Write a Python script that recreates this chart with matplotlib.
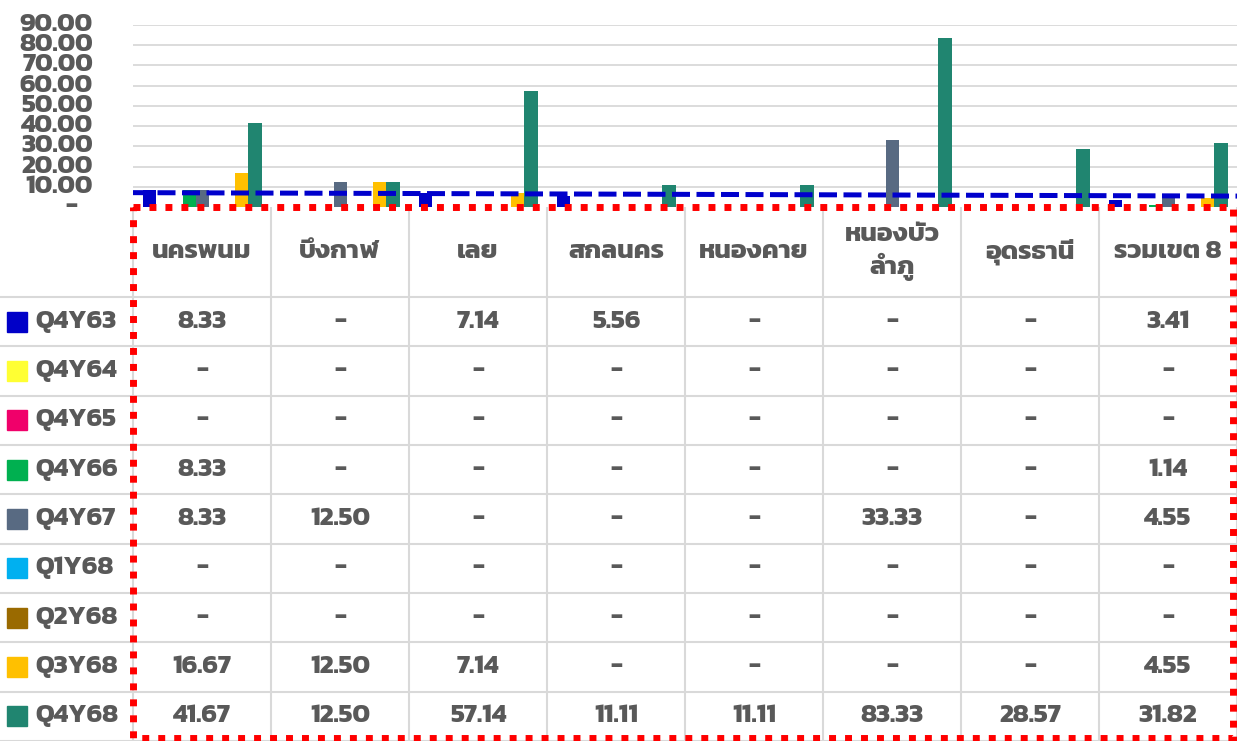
import matplotlib
matplotlib.use("Agg")
import matplotlib.pyplot as plt
from matplotlib.patches import Rectangle
from matplotlib.transforms import blended_transform_factory

plt.rcParams['font.family'] = ['Kanit', 'DejaVu Sans']
plt.rcParams['font.weight'] = 'bold'

### DATA
categories = ['นครพนม', 'บึงกาฬ', 'เลย', 'สกลนคร', 'หนองคาย',
              'หนองบัว\nลำภู', 'อุดรธานี', 'รวมเขต 8']
series_names = ['Q4Y63', 'Q4Y64', 'Q4Y65', 'Q4Y66', 'Q4Y67',
                'Q1Y68', 'Q2Y68', 'Q3Y68', 'Q4Y68']
q4y63 = [8.33, 0, 7.14, 5.56, 0, 0, 0, 3.41]
q4y64 = [0, 0, 0, 0, 0, 0, 0, 0]
q4y65 = [0, 0, 0, 0, 0, 0, 0, 0]
q4y66 = [8.33, 0, 0, 0, 0, 0, 0, 1.14]
q4y67 = [8.33, 12.50, 0, 0, 0, 33.33, 0, 4.55]
q1y68 = [0, 0, 0, 0, 0, 0, 0, 0]
q2y68 = [0, 0, 0, 0, 0, 0, 0, 0]
q3y68 = [16.67, 12.50, 7.14, 0, 0, 0, 0, 4.55]
q4y68 = [41.67, 12.50, 57.14, 11.11, 11.11, 83.33, 28.57, 31.82]
all_series = [q4y63, q4y64, q4y65, q4y66, q4y67, q1y68, q2y68, q3y68, q4y68]
colors = ['#0000C8', '#FFFF33', '#F0006A', '#00B050', '#586A82',
          '#00B0F0', '#9A6A00', '#FFC000', '#208570']
trend_ends = [7.1, 5.4]   # dashed trend line, left and right end
yticks = [0, 10, 20, 30, 40, 50, 60, 70, 80, 90]

TXT = '#595959'
GRID = '#D9D9D9'
FS = 19
W, H = 1237, 741

def fmt(v):
    return '-' if v == 0 else '{:.2f}'.format(v)

fig = plt.figure(figsize=(W / 100, H / 100), dpi=100)

### CHART AREA
ax = fig.add_axes([133 / W, (H - 207) / H, 1 - 133 / W, (207 - 25) / H])
ax.set_xlim(0, 8)
ax.set_ylim(0, 90)
for s in ax.spines.values():
    s.set_visible(False)
ax.set_xticks([])
ax.set_yticks([])
for t in yticks[1:]:
    ax.axhline(t, color=GRID, lw=1.3, zorder=0)

nser = len(all_series)
bw = 0.0955
off = 0.0725
for j, (vals, c) in enumerate(zip(all_series, colors)):
    xs = [i + off + j * bw for i in range(len(categories))]
    ax.bar(xs, vals, width=bw, align='edge', color=c, zorder=2)

ax.plot([0, 8], trend_ends, color='#0000CC', lw=3.6, dashes=(3.6, 1.3),
        zorder=3, solid_capstyle='butt')

ytr = blended_transform_factory(fig.transFigure, ax.transData)
for t in yticks:
    if t == 0:
        ax.text(71 / W, t, '-', transform=ytr, ha='center', va='center',
                fontsize=FS, color=TXT, clip_on=False)
    else:
        ax.text(93 / W, t, fmt(t), transform=ytr, ha='right', va='center',
                fontsize=FS, color=TXT, clip_on=False)

### DATA TABLE
tax = fig.add_axes([0, 0, 1, (H - 207) / H])
tax.set_xlim(-133 / 138, 8)
tax.set_ylim(534, 0)
tax.axis('off')

head_h = 90
row_h = (534 - head_h) / nser
for k in range(9):
    tax.plot([k, k], [0, 534], color=GRID, lw=1.5, zorder=1)
for r in range(nser + 1):
    y = head_h + r * row_h
    tax.plot([-133 / 138, 8], [y, y], color=GRID, lw=1.5, zorder=1)

for i, cat in enumerate(categories):
    tax.text(i + 0.5, head_h / 2, cat, ha='center', va='center',
             fontsize=FS, color=TXT, linespacing=1.3)

for r, (name, vals, c) in enumerate(zip(series_names, all_series, colors)):
    yc = head_h + (r + 0.5) * row_h
    tax.plot([(17.5 - 133) / 138], [yc], marker='s', ms=13.7, color=c,
             mec=c, zorder=3)
    tax.text((35 - 133) / 138, yc, name, ha='left', va='center',
             fontsize=FS, color=TXT)
    for i, v in enumerate(vals):
        tax.text(i + 0.5, yc, fmt(v), ha='center', va='center',
                 fontsize=FS, color=TXT)

# red dotted frame around the table
tax.add_patch(Rectangle((0, 0), (1233 - 133) / 138, 531, fill=False,
                        edgecolor='#FF0000', lw=5, linestyle=(0, (1, 1.3)),
                        zorder=5, clip_on=False))

fig.savefig('out.png', dpi=100)
